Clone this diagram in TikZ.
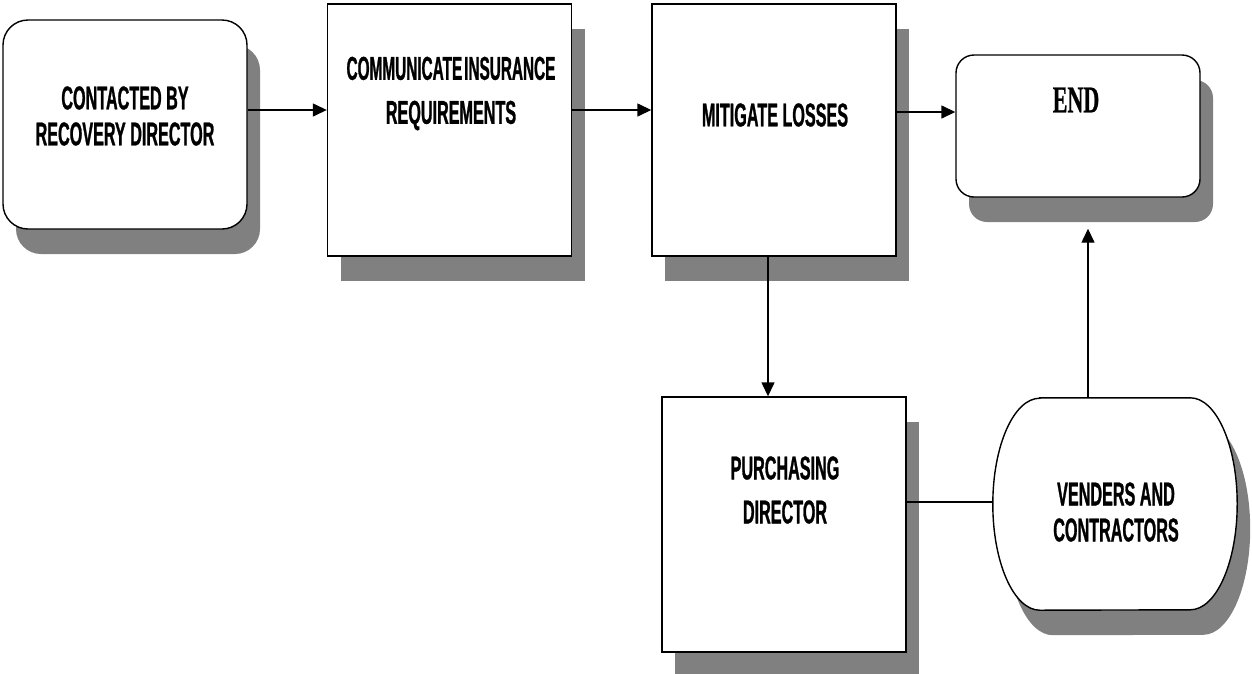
\documentclass[tikz,border=0pt]{standalone}
\usepackage{fontspec}
\usetikzlibrary{shadows,arrows.meta,backgrounds}
\newfontfamily\narrowsans[FakeStretch=0.49,FakeBold=0.8]{Liberation Sans}
\newfontfamily\narrowserif[FakeStretch=0.58,FakeBold=0.6]{Liberation Serif}
\definecolor{shadowgray}{HTML}{808080}

% outline of the vendors terminal: flat top and bottom, half-elliptic sides
\newcommand{\vendshape}[2]{%
  ([xshift=47pt+#1,yshift=#2]vend.north west) --
  ([xshift=-47pt+#1,yshift=#2]vend.north east)
  arc[start angle=90,end angle=-90,x radius=47pt,y radius=106pt] --
  ([xshift=47pt+#1,yshift=#2]vend.south west)
  arc[start angle=270,end angle=90,x radius=47pt,y radius=106pt] -- cycle}

\begin{document}
\begin{tikzpicture}[x=1pt,y=-1pt,
  box/.style={draw, line width=1.4pt, fill=white, minimum width=244pt, inner sep=0pt,
    drop shadow={shadow xshift=13pt, shadow yshift=-25pt, fill=shadowgray, opacity=1}},
  roundbox/.style={box, rounded corners=25pt},
  lbl/.style={align=center, inner sep=0pt,
    font=\narrowsans\bfseries\fontsize{33}{36}\selectfont},
  widelbl/.style={lbl, font=\narrowsans\bfseries\fontsize{33}{44}\selectfont},
  arr/.style={line width=1.4pt, -{Triangle[length=14pt,width=13pt]}},
  link/.style={line width=1.4pt},
]
\useasboundingbox (0,0) rectangle (1252,673);

% process boxes
\node[roundbox, minimum height=209pt] (b1) at (125,124.5) {};
\node[box, minimum height=252pt] (b2) at (449.5,130) {};
\node[box, minimum height=252pt] (b3) at (774,130) {};
\node[roundbox, rounded corners=18pt, minimum height=142pt] (end) at (1078,126) {};
\node[box, minimum height=255pt] (pur) at (784,524.5) {};
\node[minimum width=244pt, minimum height=212pt, inner sep=0pt] (vend) at (1115,504) {};

\begin{scope}[on background layer]
  \fill[shadowgray] \vendshape{13pt}{-25pt};
  \draw[line width=1.4pt, fill=white] \vendshape{0pt}{0pt};
\end{scope}

% texts
\node[lbl] (t1) at (125,116) {CONTACTED BY\\RECOVERY DIRECTOR};
\node[widelbl] (t2) at (451,93.5) {\addfontfeature{FakeStretch=0.465}COMMUNICATE\hspace{2pt}INSURANCE\\REQUIREMENTS};
\node[lbl] (t3) at (775,115) {MITIGATE LOSSES};
\node[inner sep=0pt, font=\narrowserif\bfseries\fontsize{38}{40}\selectfont] (tend) at (1076,100) {END};
\node[widelbl] (tpur) at (785,490) {PURCHASING\\DIRECTOR};
\node[lbl] (tvend) at (1116,512) {VENDERS AND\\CONTRACTORS};

% connectors
\coordinate (row) at (0,110);
\coordinate (row3) at (0,112);
\coordinate (col) at (768,0);
\coordinate (mid) at (0,502);
\coordinate (col2) at (1088,0);

\draw[arr] (b1.east |- row) -- (b2.west |- row);
\draw[arr] (b2.east |- row) -- (b3.west |- row);
\draw[arr] (b3.east |- row3) -- (end.west |- row3);
\draw[arr] (b3.south -| col) -- (pur.north -| col);
\draw[link] (pur.east |- mid) -- (vend.west |- mid);
\draw[arr, shorten >=31pt] (vend.north -| col2) -- (end.south -| col2);
\end{tikzpicture}
\end{document}
